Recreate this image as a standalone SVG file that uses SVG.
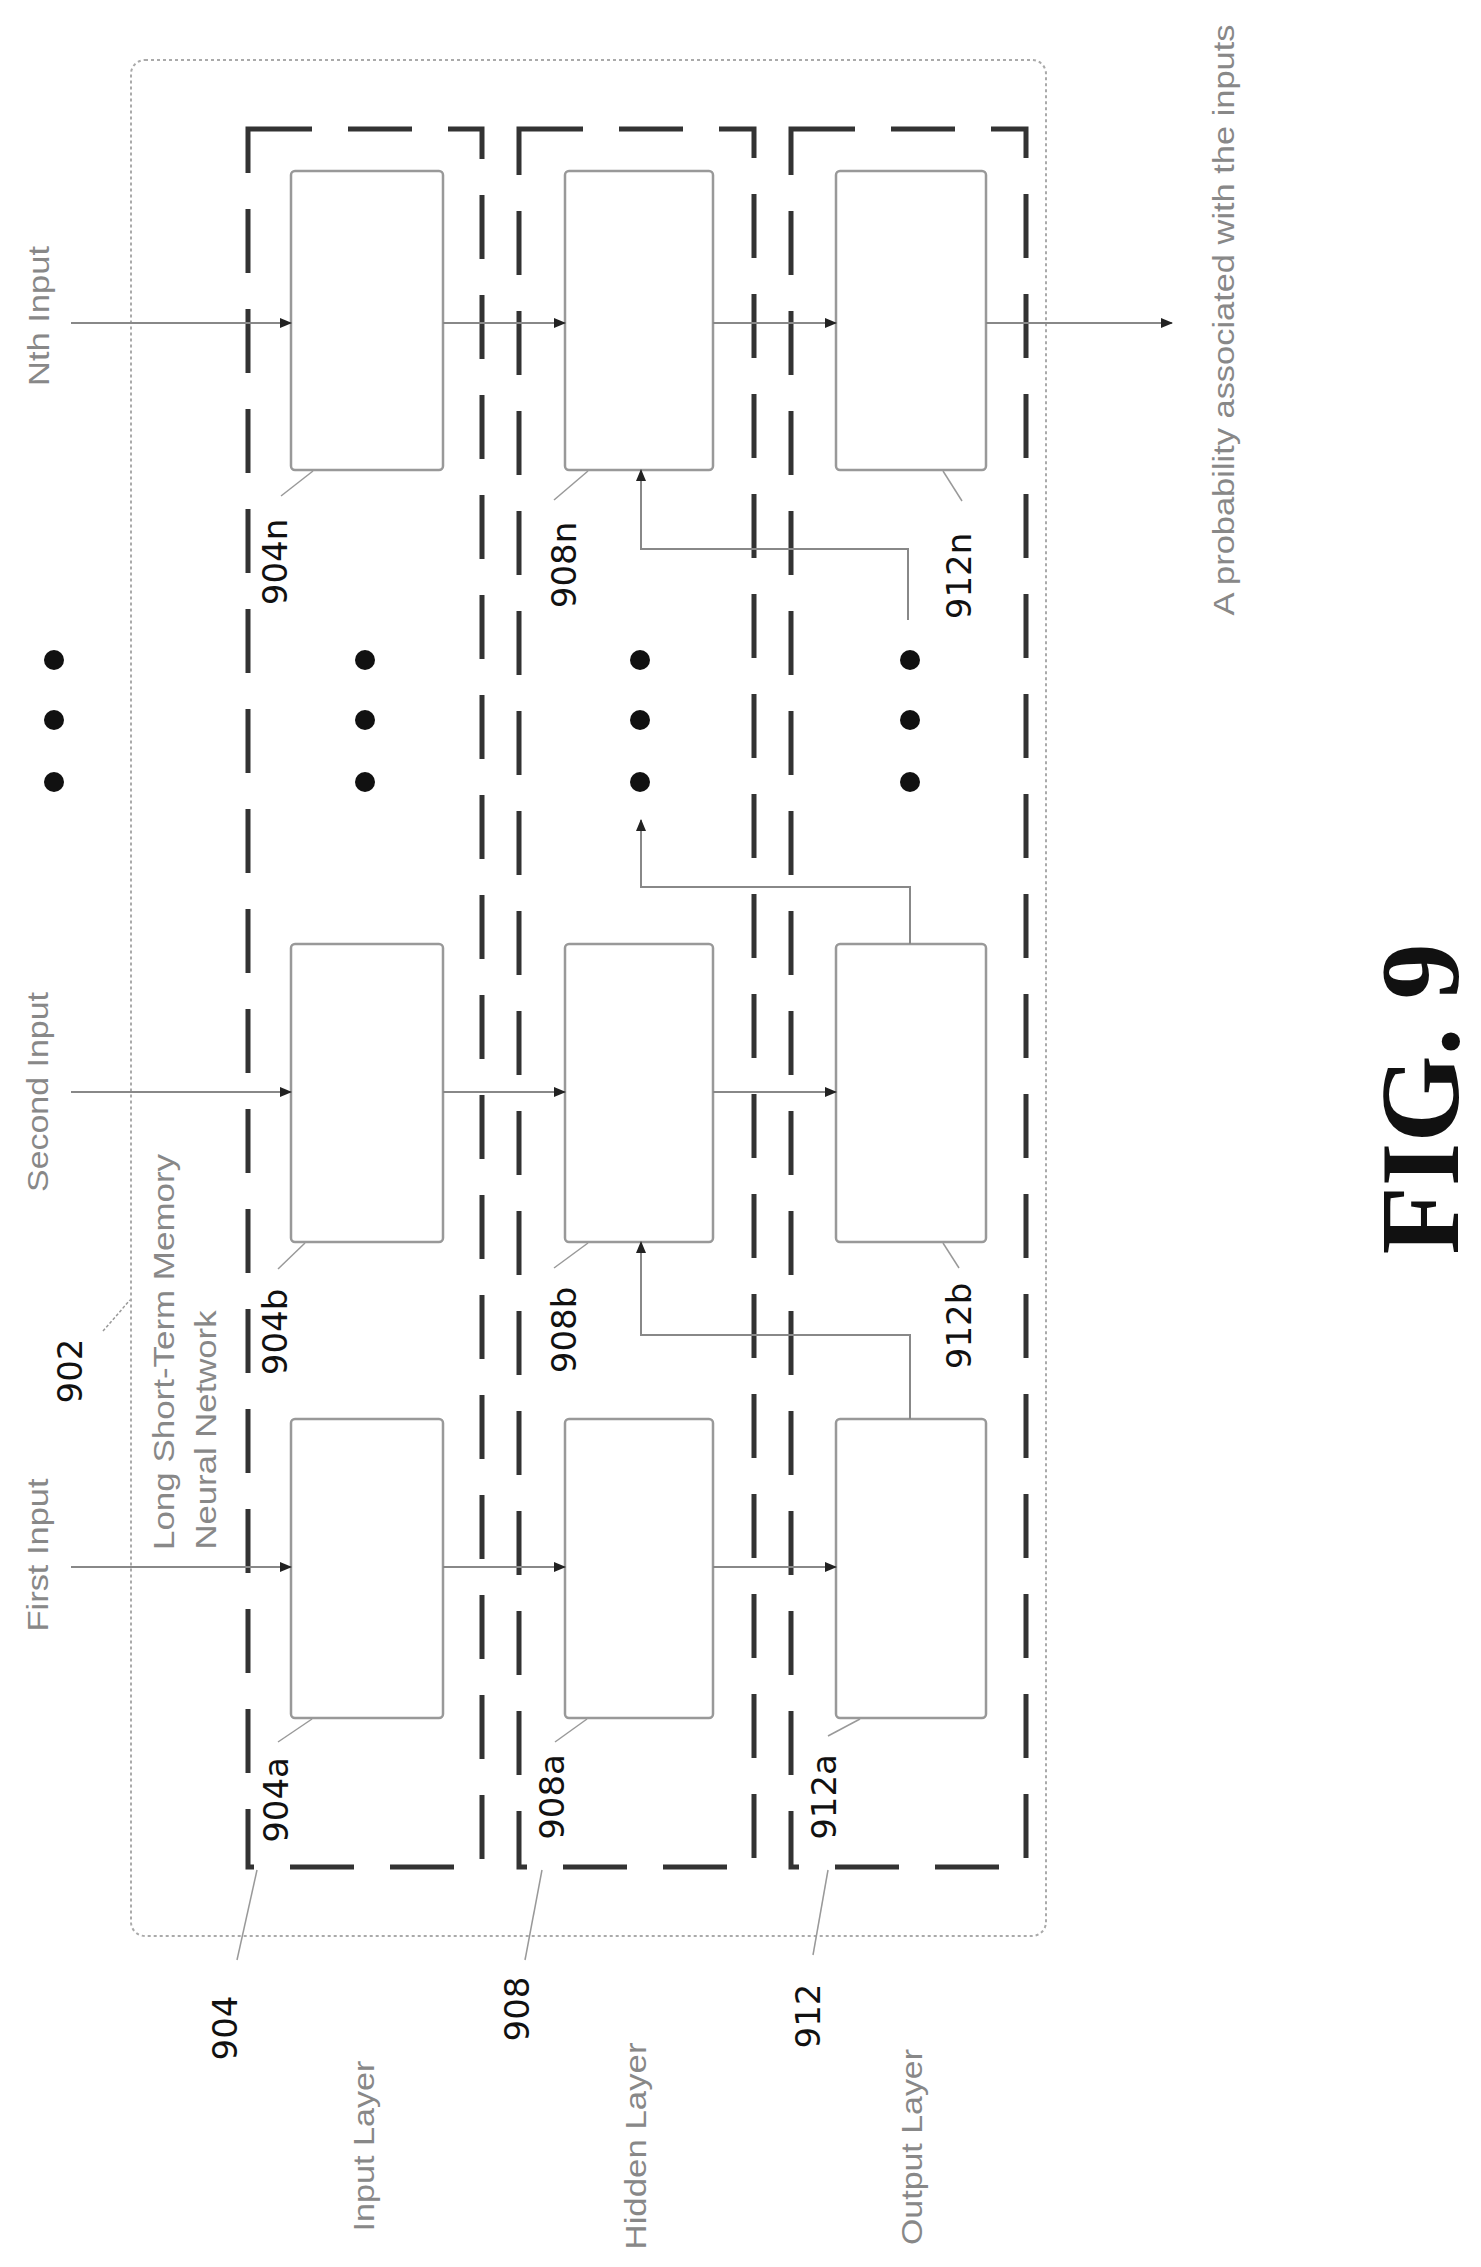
<svg xmlns="http://www.w3.org/2000/svg" width="1481" height="2267" viewBox="0 0 1481 2267">
<style>
.box{fill:#fff;stroke:#999;stroke-width:2.5}
.dash{fill:none;stroke:#333;stroke-width:5;stroke-dasharray:64 36}
.ln{fill:none;stroke:#888;stroke-width:2}
.ld{fill:none;stroke:#999;stroke-width:1.5}
.num{font-family:"DejaVu Sans",sans-serif;font-size:34px;fill:#111;text-anchor:middle;dominant-baseline:central}
.lab{font-family:"Liberation Sans",Arial,sans-serif;font-size:30px;fill:#888;text-anchor:middle;dominant-baseline:central}
.dot{fill:#111}
</style>
<defs>
<marker id="ah" markerWidth="12" markerHeight="10" refX="11" refY="5" orient="auto" markerUnits="userSpaceOnUse">
<path d="M0,0 L12,5 L0,10 Z" fill="#222"/>
</marker>
</defs>
<rect id="lstm" x="131" y="60" width="915" height="1876" rx="14" fill="none" stroke="#aaa" stroke-width="2" stroke-dasharray="3 3"/>
<g id="layer904"><rect class="dash" x="248" y="129" width="234" height="1738"/></g>
<g id="layer908"><rect class="dash" x="519" y="129" width="235" height="1738"/></g>
<g id="layer912"><rect class="dash" x="791" y="129" width="235" height="1738"/></g>
<g id="node904n"><rect class="box" x="291" y="171" width="152" height="299" rx="4"/></g>
<g id="node908n"><rect class="box" x="565" y="171" width="148" height="299" rx="4"/></g>
<g id="node912n"><rect class="box" x="836" y="171" width="150" height="299" rx="4"/></g>
<g id="node904b"><rect class="box" x="291" y="944" width="152" height="298" rx="4"/></g>
<g id="node908b"><rect class="box" x="565" y="944" width="148" height="298" rx="4"/></g>
<g id="node912b"><rect class="box" x="836" y="944" width="150" height="298" rx="4"/></g>
<g id="node904a"><rect class="box" x="291" y="1419" width="152" height="299" rx="4"/></g>
<g id="node908a"><rect class="box" x="565" y="1419" width="148" height="299" rx="4"/></g>
<g id="node912a"><rect class="box" x="836" y="1419" width="150" height="299" rx="4"/></g>
<g id="connectors">
<line class="ln" x1="71" y1="323" x2="291" y2="323" marker-end="url(#ah)"/>
<line class="ln" x1="443" y1="323" x2="565" y2="323" marker-end="url(#ah)"/>
<line class="ln" x1="713" y1="323" x2="836" y2="323" marker-end="url(#ah)"/>
<line class="ln" x1="986" y1="323" x2="1172" y2="323" marker-end="url(#ah)"/>
<line class="ln" x1="71" y1="1092" x2="291" y2="1092" marker-end="url(#ah)"/>
<line class="ln" x1="443" y1="1092" x2="565" y2="1092" marker-end="url(#ah)"/>
<line class="ln" x1="713" y1="1092" x2="836" y2="1092" marker-end="url(#ah)"/>
<line class="ln" x1="71" y1="1567" x2="291" y2="1567" marker-end="url(#ah)"/>
<line class="ln" x1="443" y1="1567" x2="565" y2="1567" marker-end="url(#ah)"/>
<line class="ln" x1="713" y1="1567" x2="836" y2="1567" marker-end="url(#ah)"/>
<path class="ln" d="M910,1419 V1335 H641 V1242" marker-end="url(#ah)"/>
<path class="ln" d="M910,944 V887 H641 V820" marker-end="url(#ah)"/>
<path class="ln" d="M908,620 V549 H641 V470" marker-end="url(#ah)"/>
</g>
<g id="dots">
<circle class="dot" cx="54" cy="660" r="10"/><circle class="dot" cx="54" cy="720" r="10"/><circle class="dot" cx="54" cy="782" r="10"/>
<circle class="dot" cx="365" cy="660" r="10"/><circle class="dot" cx="365" cy="720" r="10"/><circle class="dot" cx="365" cy="782" r="10"/>
<circle class="dot" cx="640" cy="660" r="10"/><circle class="dot" cx="640" cy="720" r="10"/><circle class="dot" cx="640" cy="782" r="10"/>
<circle class="dot" cx="910" cy="660" r="10"/><circle class="dot" cx="910" cy="720" r="10"/><circle class="dot" cx="910" cy="782" r="10"/>
</g>
<g id="leaders">
<line class="ld" x1="281" y1="496" x2="313" y2="471"/>
<line class="ld" x1="554" y1="500" x2="588" y2="471"/>
<line class="ld" x1="962" y1="501" x2="943" y2="471"/>
<line class="ld" x1="278" y1="1269" x2="305" y2="1243"/>
<line class="ld" x1="554" y1="1268" x2="588" y2="1243"/>
<line class="ld" x1="959" y1="1268" x2="943" y2="1243"/>
<line class="ld" x1="278" y1="1742" x2="312" y2="1719"/>
<line class="ld" x1="555" y1="1742" x2="587" y2="1719"/>
<line class="ld" x1="828" y1="1736" x2="860" y2="1719"/>
<line class="ld" x1="103" y1="1331" x2="130" y2="1300" stroke-dasharray="3 2"/>
<line class="ld" x1="237" y1="1960" x2="257" y2="1870"/>
<line class="ld" x1="525" y1="1960" x2="542" y2="1870"/>
<line class="ld" x1="813" y1="1955" x2="828" y2="1870"/>
</g>
<g id="labels">
<text class="lab" transform="translate(38,316) rotate(-90)" textLength="140" lengthAdjust="spacingAndGlyphs">Nth Input</text>
<text class="lab" transform="translate(37,1092) rotate(-90)" textLength="200" lengthAdjust="spacingAndGlyphs">Second Input</text>
<text class="lab" transform="translate(37,1555) rotate(-90)" textLength="153" lengthAdjust="spacingAndGlyphs">First Input</text>
<text class="lab" transform="translate(163,1352) rotate(-90)" textLength="396" lengthAdjust="spacingAndGlyphs">Long Short-Term Memory</text>
<text class="lab" transform="translate(205,1430) rotate(-90)" textLength="239" lengthAdjust="spacingAndGlyphs">Neural Network</text>
<text class="lab" transform="translate(1223,320) rotate(-90)" textLength="591" lengthAdjust="spacingAndGlyphs">A probability associated with the inputs</text>
<text class="lab" transform="translate(363,2146) rotate(-90)" textLength="171" lengthAdjust="spacingAndGlyphs">Input Layer</text>
<text class="lab" transform="translate(635,2146) rotate(-90)" textLength="207" lengthAdjust="spacingAndGlyphs">Hidden Layer</text>
<text class="lab" transform="translate(911,2147) rotate(-90)" textLength="196" lengthAdjust="spacingAndGlyphs">Output Layer</text>
<text class="num" transform="translate(70,1371) rotate(-90)">902</text>
<text class="num" transform="translate(275,562) rotate(-90)">904n</text>
<text class="num" transform="translate(564,565) rotate(-90)">908n</text>
<text class="num" transform="translate(959,576) rotate(-90)">912n</text>
<text class="num" transform="translate(275,1332) rotate(-90)">904b</text>
<text class="num" transform="translate(564,1330) rotate(-90)">908b</text>
<text class="num" transform="translate(959,1326) rotate(-90)">912b</text>
<text class="num" transform="translate(276,1800) rotate(-90)">904a</text>
<text class="num" transform="translate(552,1797) rotate(-90)">908a</text>
<text class="num" transform="translate(824,1797) rotate(-90)">912a</text>
<text class="num" transform="translate(225,2028) rotate(-90)">904</text>
<text class="num" transform="translate(517,2009) rotate(-90)">908</text>
<text class="num" transform="translate(808,2016) rotate(-90)">912</text>
<text transform="translate(1420,1099) rotate(-90)" font-family="Liberation Serif,serif" font-weight="bold" font-size="112" text-anchor="middle" dominant-baseline="central" fill="#111">FIG. 9</text>
</g>
</svg>
